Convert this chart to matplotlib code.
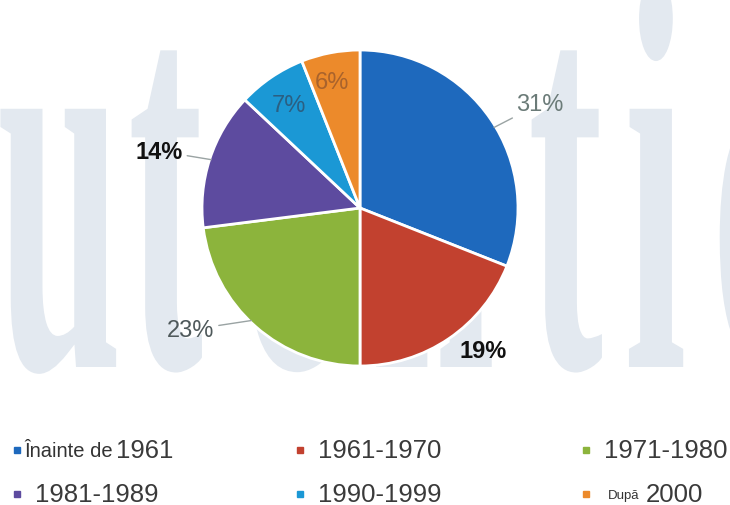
import matplotlib
matplotlib.use("Agg")
import numpy as np
import matplotlib.pyplot as plt
from matplotlib import patheffects
from matplotlib.patches import Rectangle
from matplotlib.transforms import Affine2D

# === Data ===
CATEGORIES = ["Înainte de 1961", "1961-1970", "1971-1980",
              "1981-1989", "1990-1999", "După 2000"]
SHARES = [31, 19, 23, 14, 7, 6]   # percent
COLORS = ["#1e69bd", "#c2412f", "#8cb43c", "#5d4b9f", "#1b98d5", "#ec8a2b"]

WATERMARK = "autentic"

# label style per slice: (x, y) in pie data units, colour, bold, ha, leader angle
LABEL_STYLE = [
    ((0.99, 0.66), "#6b7b78", False, "left", 31),
    ((0.78, -0.90), "#111111", True, "center", None),
    ((-0.92, -0.77), "#4f595b", False, "right", -134),
    ((-1.12, 0.36), "#111111", True, "right", 162),
    ((-0.45, 0.65), "#2b5f82", False, "center", None),
    ((-0.18, 0.80), "#a9632c", False, "center", None),
]


class Stretch(patheffects.AbstractPathEffect):
    """Scale glyph paths about the text anchor (used for the tall watermark)."""

    def __init__(self, sx=1.0, sy=1.0):
        super().__init__()
        self.sx, self.sy = sx, sy

    def draw_path(self, renderer, gc, tpath, affine, rgbFace=None):
        renderer.draw_path(gc, tpath, Affine2D().scale(self.sx, self.sy) + affine,
                           rgbFace)


fig = plt.figure(figsize=(7.3, 5.06), dpi=100)
fig.patch.set_facecolor("white")

# background axes in pixel units
bg = fig.add_axes([0, 0, 1, 1])
bg.set_xlim(0, 730)
bg.set_ylim(506, 0)
bg.axis("off")

# watermark letters
wm_x = [-112, -3, 128, 240, 370, 528, 624, 712]
for ch, x in zip(WATERMARK, wm_x):
    bg.text(x, 368, ch, fontsize=150, family="Liberation Serif",
            fontweight="bold", color="#e3e9f0", ha="left", va="baseline",
            path_effects=[Stretch(1.08, 2.7)], zorder=0)

# pie
ax = fig.add_axes([0.2767, 0.2747, 0.4329, 0.6245])
wedges, _ = ax.pie(SHARES, colors=COLORS, startangle=90, counterclock=False,
                   radius=1.0, wedgeprops=dict(edgecolor="white", linewidth=2))
ax.set_xlim(-1, 1)
ax.set_ylim(-1, 1)
ax.set_aspect("equal")
ax.axis("off")

for val, (pos, col, bold, ha, lead) in zip(SHARES, LABEL_STYLE):
    kw = dict(fontsize=17, color=col, ha=ha, va="center",
              family="Liberation Sans",
              fontweight="bold" if bold else "normal")
    if lead is None:
        ax.text(pos[0], pos[1], f"{val}%", **kw)
    else:
        th = np.deg2rad(lead)
        ax.annotate(f"{val}%", xy=(0.99 * np.cos(th), 0.99 * np.sin(th)),
                    xytext=pos, annotation_clip=False,
                    arrowprops=dict(arrowstyle="-", color="#9aa3a3", lw=1,
                                    shrinkA=1, shrinkB=0), **kw)

# legend (3 columns x 2 rows)
col_x = [17, 300, 586]
row_y = [451, 495]
fig.canvas.draw()
rend = fig.canvas.get_renderer()
for i, (lab, c) in enumerate(zip(CATEGORIES, COLORS)):
    x0 = col_x[i % 3]
    y0 = row_y[i // 3]
    bg.add_patch(Rectangle((x0 - 3, y0 - 3), 6, 6, color=c, zorder=3))
    tx = x0 + 6
    if lab[0].isalpha():
        prefix, year = lab.rsplit(" ", 1)
        small = prefix.startswith("Î")
        tx += 1 if small else 16
        t = bg.text(tx, y0 + 1, prefix, fontsize=14.5 if small else 9.5,
                    color="#333333", family="Liberation Sans",
                    ha="left", va="center")
        bb = t.get_window_extent(rend)
        tx += bb.width + (3 if small else 6)
        lab = year
    else:
        tx += 12
    bg.text(tx, y0, lab, fontsize=18.5, color="#3a3a3a", family="Liberation Sans",
            ha="left", va="center")

fig.savefig("out.png", dpi=100)
